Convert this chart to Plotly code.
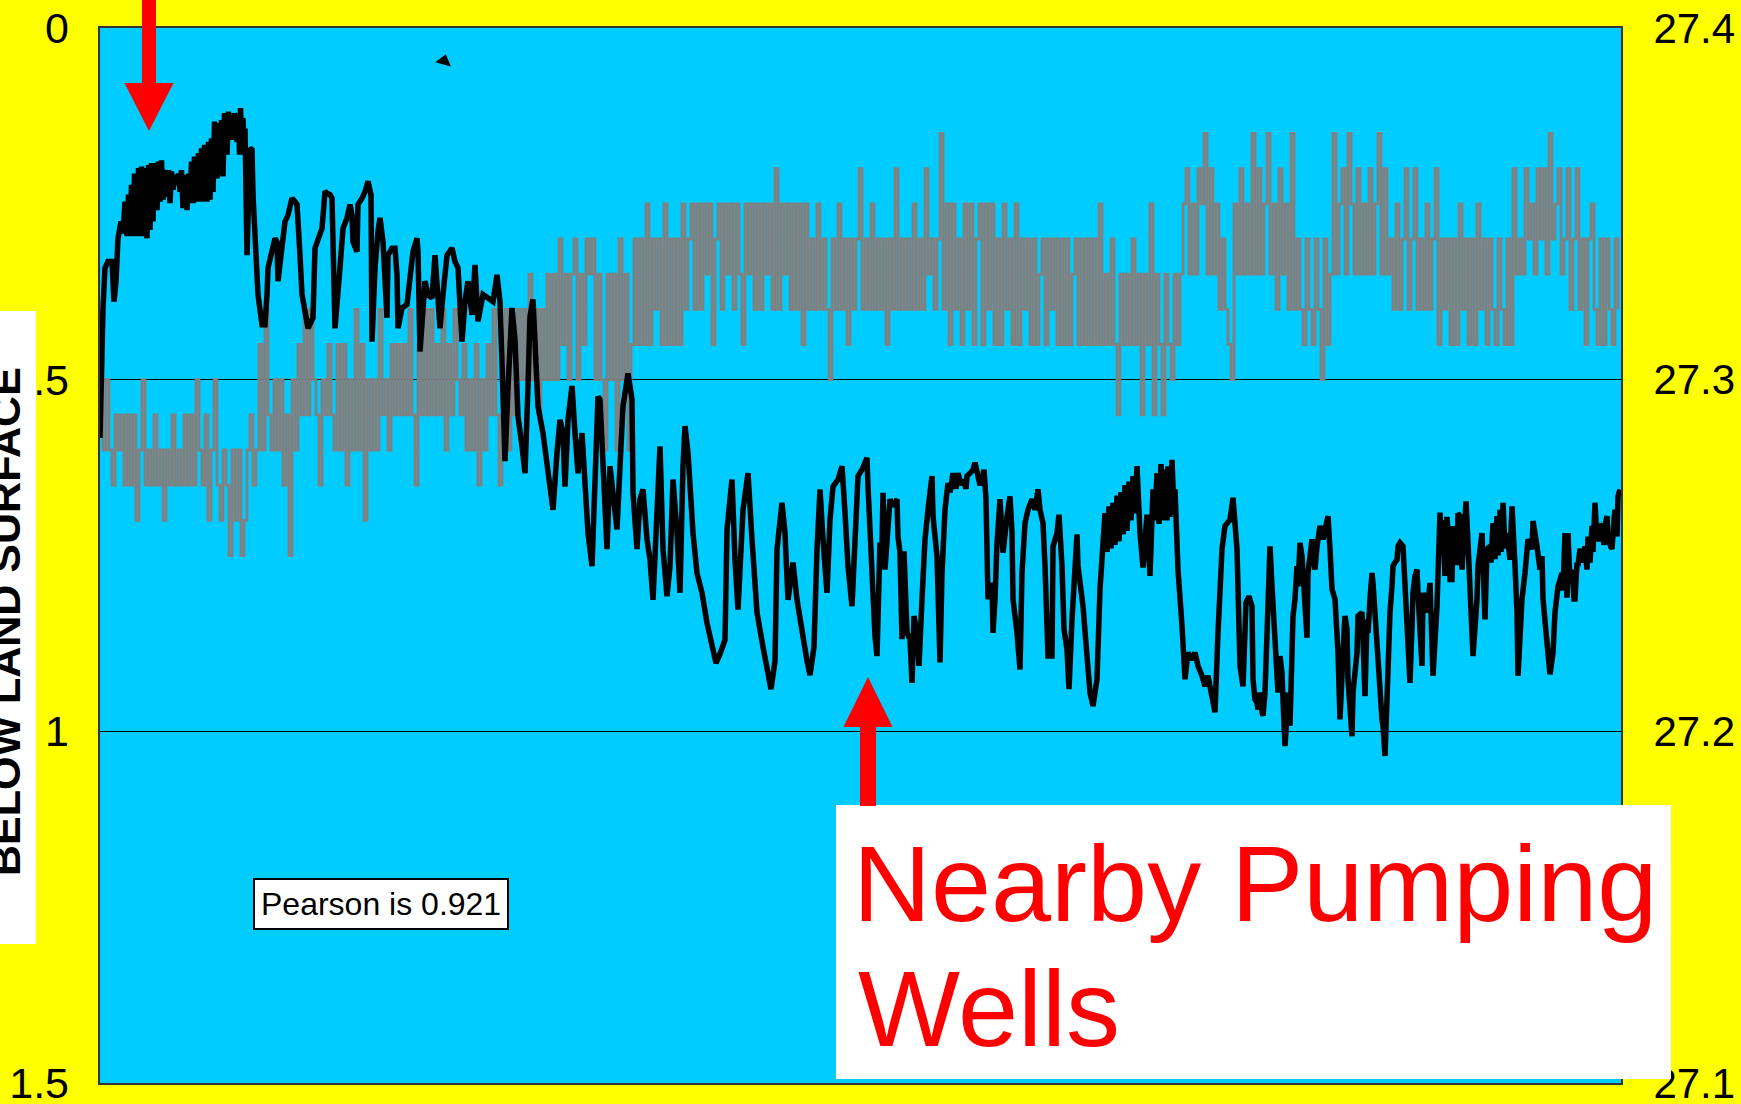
import plotly.graph_objects as go

# ------------------------------------------------------------------
# DATA
# time axis: arbitrary sample time units, 0 .. 1521 across the record
# ------------------------------------------------------------------
record_span = [0, 1521]

# Black series: depth to water below land surface (ft), left axis
# (time, depth) pairs, grouped by part of the record
black_early = [
    (0, 0.583), (2, 0.427), (3, 0.398), (5, 0.341), (8, 0.332), (12, 0.332),
    (14, 0.389), (16, 0.360), (18, 0.299), (21, 0.275),
    (23, 0.292), (25, 0.247), (27, 0.296), (28.5, 0.237), (30, 0.296), (31.5, 0.223),
    (33, 0.296), (34.5, 0.207), (37, 0.296), (38.5, 0.199), (40, 0.296), (41.5, 0.197),
    (43, 0.296), (44.5, 0.199), (47, 0.299), (48.5, 0.195), (50, 0.287), (51.5, 0.192),
    (53, 0.275), (54.5, 0.192), (57, 0.259), (58.5, 0.190), (60, 0.247), (61.5, 0.188),
    (63, 0.244), (64.5, 0.202), (67, 0.240), (68.5, 0.202), (70, 0.249), (71.5, 0.204),
    (73, 0.230), (74.5, 0.209), (77, 0.223), (78.5, 0.207), (80, 0.233), (81.5, 0.202),
    (83, 0.256), (84.5, 0.209), (87, 0.259), (88.5, 0.207), (90, 0.249), (91.5, 0.190),
    (93, 0.249), (94.5, 0.183), (97, 0.247), (98.5, 0.178), (100, 0.247), (101.5, 0.171),
    (103, 0.247), (104.5, 0.166), (107, 0.247), (108.5, 0.162), (110, 0.244), (111.5, 0.157),
    (113, 0.233), (114.5, 0.133), (117, 0.214), (118.5, 0.135), (120, 0.209), (121.5, 0.131),
    (123, 0.211), (124.5, 0.121), (127, 0.180), (128.5, 0.119), (130, 0.157), (131.5, 0.124),
    (133, 0.159), (134.5, 0.121), (137, 0.162), (138.5, 0.124), (139.5, 0.180), (140.5, 0.114),
    (142, 0.166), (143, 0.128), (144, 0.180), (145, 0.143),
]
black_decline = [
    (147, 0.323), (150, 0.171), (152, 0.173), (153, 0.237), (157, 0.337), (158, 0.379),
    (162, 0.422), (165, 0.422), (167, 0.379), (168, 0.341), (175, 0.299), (177, 0.304),
    (178, 0.360), (182, 0.308), (185, 0.275), (188, 0.266), (192, 0.242), (195, 0.247),
    (197, 0.251), (200, 0.323), (202, 0.379), (205, 0.403), (208, 0.427), (213, 0.412),
    (215, 0.313), (222, 0.285), (225, 0.232), (227, 0.235), (230, 0.237), (232, 0.242),
    (233, 0.332), (235, 0.427), (240, 0.341), (243, 0.285), (247, 0.270), (250, 0.251),
    (252, 0.266), (253, 0.304), (257, 0.318), (258, 0.251), (262, 0.242), (265, 0.233),
    (268, 0.218), (271, 0.237), (272, 0.446), (275, 0.341), (278, 0.289), (280, 0.270),
    (283, 0.304), (287, 0.412), (288, 0.323), (292, 0.313), (295, 0.313), (297, 0.351),
    (298, 0.427), (302, 0.398), (307, 0.393), (310, 0.360), (313, 0.318), (317, 0.299),
    (318, 0.318), (320, 0.460), (325, 0.360), (328, 0.379), (332, 0.384), (335, 0.323),
    (337, 0.379), (340, 0.427), (343, 0.379), (347, 0.323), (352, 0.313), (355, 0.332),
    (358, 0.341), (362, 0.446), (365, 0.389), (368, 0.360), (372, 0.408), (375, 0.337),
    (378, 0.417), (383, 0.379), (388, 0.384), (393, 0.389), (397, 0.351), (400, 0.389),
    (403, 0.521), (405, 0.616), (408, 0.512), (412, 0.398),
]
black_pumping_1 = [
    (415, 0.443), (418, 0.552), (422, 0.595), (425, 0.633), (428, 0.509), (430, 0.410),
    (433, 0.386), (435, 0.453), (438, 0.538), (443, 0.576), (447, 0.618), (450, 0.647),
    (453, 0.685), (457, 0.604), (460, 0.557), (463, 0.576), (465, 0.652), (468, 0.557),
    (472, 0.509), (475, 0.576), (478, 0.633), (482, 0.576), (485, 0.656), (488, 0.718),
    (492, 0.765), (495, 0.661), (498, 0.524), (500, 0.528), (503, 0.614), (507, 0.741),
    (510, 0.623), (513, 0.661), (517, 0.713), (520, 0.623), (523, 0.538), (528, 0.491),
    (532, 0.528), (533, 0.661), (537, 0.741), (540, 0.670), (543, 0.656), (547, 0.727),
    (550, 0.756), (553, 0.813), (557, 0.694), (560, 0.595), (563, 0.741), (567, 0.808),
    (570, 0.765), (573, 0.642), (577, 0.718), (580, 0.803), (583, 0.623), (585, 0.566),
    (588, 0.604), (593, 0.718), (597, 0.775), (602, 0.803), (607, 0.846), (612, 0.880),
    (616, 0.903), (620, 0.890), (625, 0.870), (627, 0.713), (628, 0.699), (632, 0.642),
    (635, 0.756), (638, 0.827), (643, 0.685), (648, 0.633), (652, 0.727), (657, 0.831),
    (663, 0.880), (668, 0.925), (671, 0.940), (675, 0.900), (677, 0.741), (682, 0.675),
    (685, 0.718), (688, 0.813), (693, 0.760), (697, 0.813), (702, 0.860), (707, 0.900),
    (710, 0.920), (714, 0.880), (717, 0.741), (720, 0.656), (723, 0.727), (727, 0.803),
    (730, 0.699), (733, 0.652), (738, 0.642), (742, 0.623), (745, 0.689), (748, 0.765),
    (752, 0.822), (755, 0.708), (758, 0.637), (762, 0.628),
]
black_pumping_2 = [
    (767, 0.611), (768, 0.652), (770, 0.727), (773, 0.836), (775, 0.865), (777, 0.893),
    (778, 0.812), (780, 0.732), (782, 0.737), (783, 0.661), (785, 0.770), (787, 0.727),
    (788, 0.718), (790, 0.670), (793, 0.680), (797, 0.670), (798, 0.723), (800, 0.746),
    (802, 0.869), (803, 0.746), (804, 0.744), (807, 0.860), (810, 0.869), (812, 0.931),
    (814, 0.836), (817, 0.860), (819, 0.907), (822, 0.812), (825, 0.727), (828, 0.685),
    (832, 0.637), (833, 0.694), (837, 0.751), (840, 0.902), (842, 0.775), (845, 0.685),
    (848, 0.647), (850, 0.660), (853, 0.633), (856, 0.655), (858, 0.633), (861, 0.650),
    (863, 0.642), (866, 0.655), (867, 0.637), (870, 0.633), (873, 0.628), (875, 0.618),
    (878, 0.637), (880, 0.650), (882, 0.642), (884, 0.628), (886, 0.670), (888, 0.812),
    (892, 0.789), (893, 0.860), (895, 0.812), (897, 0.732), (900, 0.670), (902, 0.727),
    (903, 0.746), (907, 0.694), (910, 0.666), (912, 0.718), (913, 0.812), (917, 0.860),
    (920, 0.912), (922, 0.775), (925, 0.704), (928, 0.685), (932, 0.670), (935, 0.685),
    (938, 0.656), (940, 0.685), (943, 0.704), (945, 0.765), (948, 0.893), (952, 0.893),
    (953, 0.737), (957, 0.718), (959, 0.692), (962, 0.765), (964, 0.855), (967, 0.884),
    (969, 0.940), (972, 0.841), (974, 0.775), (977, 0.720), (978, 0.765), (980, 0.784),
    (983, 0.822), (987, 0.893), (990, 0.945), (993, 0.964), (997, 0.926), (1000, 0.798),
    (1003, 0.727), (1005, 0.690), (1007, 0.745), (1009, 0.680), (1011, 0.740), (1013, 0.675),
    (1015, 0.735), (1017, 0.665), (1019, 0.730), (1021, 0.660), (1023, 0.720), (1025, 0.650),
    (1027, 0.715), (1029, 0.645), (1031, 0.700), (1033, 0.637), (1035, 0.690), (1037, 0.623),
    (1040, 0.718), (1043, 0.767), (1047, 0.692), (1050, 0.779), (1053, 0.656), (1055, 0.700),
    (1057, 0.633), (1059, 0.705), (1061, 0.620), (1063, 0.700), (1065, 0.628), (1067, 0.700),
    (1068, 0.623), (1070, 0.695), (1072, 0.614), (1074, 0.690), (1075, 0.656), (1078, 0.770),
    (1082, 0.850), (1085, 0.926), (1088, 0.888), (1092, 0.898), (1095, 0.888), (1098, 0.907),
    (1102, 0.921), (1105, 0.936), (1108, 0.921), (1112, 0.955), (1115, 0.973), (1118, 0.860),
    (1122, 0.741), (1125, 0.708), (1130, 0.699), (1133, 0.668), (1137, 0.741), (1140, 0.907),
    (1143, 0.936), (1146, 0.817), (1149, 0.808),
]
black_late = [
    (1152, 0.822), (1153, 0.926), (1155, 0.955), (1157, 0.959), (1158, 0.969), (1160, 0.945),
    (1162, 0.973), (1163, 0.978), (1165, 0.945), (1167, 0.831), (1170, 0.737), (1172, 0.794),
    (1173, 0.822), (1175, 0.850), (1177, 0.898), (1178, 0.945), (1180, 0.893), (1182, 0.917),
    (1183, 0.955), (1185, 1.021), (1187, 0.978), (1188, 0.945), (1190, 0.992), (1192, 0.860),
    (1193, 0.836), (1195, 0.812), (1197, 0.765), (1198, 0.794), (1200, 0.732), (1202, 0.751),
    (1203, 0.775), (1205, 0.812), (1207, 0.867), (1208, 0.775), (1210, 0.751), (1212, 0.727),
    (1213, 0.746), (1215, 0.770), (1217, 0.737), (1220, 0.708), (1223, 0.727), (1228, 0.694),
    (1230, 0.741), (1232, 0.798), (1235, 0.812), (1237, 0.850), (1238, 0.888), (1240, 0.983),
    (1242, 0.898), (1243, 0.888), (1245, 0.836), (1247, 0.855), (1248, 0.926), (1250, 0.973),
    (1252, 1.007), (1253, 0.945), (1257, 0.888), (1258, 0.836), (1262, 0.831), (1265, 0.950),
    (1267, 0.841), (1268, 0.860), (1270, 0.812), (1272, 0.775), (1273, 0.789), (1275, 0.831),
    (1277, 0.898), (1280, 0.945), (1282, 0.983), (1283, 0.992), (1285, 1.035), (1287, 0.955),
    (1288, 0.884), (1290, 0.831), (1292, 0.794), (1293, 0.765), (1295, 0.760), (1297, 0.756),
    (1298, 0.737), (1300, 0.732), (1303, 0.737), (1305, 0.803), (1307, 0.860), (1310, 0.931),
    (1312, 0.850), (1313, 0.803), (1315, 0.779), (1317, 0.770), (1318, 0.803), (1322, 0.907),
    (1323, 0.803), (1327, 0.831), (1330, 0.789), (1333, 0.921), (1337, 0.822), (1338, 0.765),
    (1340, 0.689), (1342, 0.741), (1343, 0.700), (1345, 0.779), (1347, 0.695), (1348, 0.718),
    (1350, 0.784), (1352, 0.784), (1353, 0.708), (1355, 0.760), (1357, 0.760), (1358, 0.690),
    (1360, 0.694), (1362, 0.770), (1363, 0.746), (1365, 0.680), (1366, 0.673), (1368, 0.732),
    (1370, 0.794), (1372, 0.836), (1373, 0.893), (1377, 0.812), (1378, 0.765), (1382, 0.718),
    (1385, 0.841), (1387, 0.741), (1390, 0.737), (1391, 0.760), (1393, 0.704), (1395, 0.755),
    (1397, 0.694), (1398, 0.750), (1400, 0.685), (1401, 0.745), (1403, 0.675), (1405, 0.740),
    (1407, 0.718), (1410, 0.756), (1412, 0.680), (1415, 0.765), (1417, 0.831), (1418, 0.921),
    (1420, 0.860), (1422, 0.812), (1425, 0.775), (1428, 0.727), (1432, 0.741), (1433, 0.701),
    (1437, 0.737), (1440, 0.770), (1442, 0.751), (1443, 0.812), (1447, 0.874), (1450, 0.919),
    (1453, 0.888), (1455, 0.831), (1458, 0.794), (1462, 0.775), (1463, 0.800), (1465, 0.718),
    (1467, 0.810), (1468, 0.718), (1470, 0.790), (1472, 0.770), (1474, 0.812), (1475, 0.812),
    (1477, 0.760), (1478, 0.765), (1480, 0.740), (1482, 0.751), (1483, 0.760), (1485, 0.737),
    (1487, 0.770), (1488, 0.723), (1490, 0.760), (1492, 0.708), (1493, 0.745), (1495, 0.675),
    (1497, 0.730), (1498, 0.708), (1500, 0.730), (1502, 0.704), (1504, 0.735), (1505, 0.708),
    (1507, 0.694), (1508, 0.727), (1510, 0.735), (1512, 0.741), (1514, 0.700), (1515, 0.685),
    (1517, 0.723), (1518, 0.666), (1520, 0.656),
]

# Gray series: water level, recorded every 3 time units,
# in hundredths of a foot above 27 ft (right axis)
gray_interval = 3
gray_hundredths = [
    31, 28, 30, 28, 27, 29, 28, 29, 27, 29,
    27, 29, 26, 28, 30, 27, 28, 27, 29, 27,
    28, 26, 28, 27, 29, 27, 28, 27, 29, 27,
    29, 27, 30, 28, 27, 29, 26, 28, 30, 27,
    26, 28, 27, 25, 28, 26, 28, 25, 26, 28,
    29, 27, 28, 31, 28, 32, 29, 28, 30, 28,
    30, 27, 29, 25, 30, 28, 31, 29, 32, 29,
    32, 30, 29, 27, 30, 29, 31, 29, 28, 31,
    28, 31, 27, 30, 28, 32, 28, 31, 26, 30,
    28, 30, 28, 32, 29, 30, 28, 31, 29, 31,
    29, 31, 29, 32, 29, 27, 31, 29, 32, 29,
    32, 29, 31, 29, 32, 28, 31, 29, 32, 30,
    29, 31, 28, 30, 28, 31, 27, 30, 28, 31,
    29, 32, 29, 27, 29, 32, 28, 31, 29, 32,
    30, 32, 30, 33, 30, 32, 29, 32, 30, 33,
    30, 33, 30, 34, 31, 33, 30, 33, 34, 30,
    33, 31, 34, 33, 34, 30, 33, 30, 28, 33,
    30, 33, 28, 34, 30, 33, 28, 31, 34, 31,
    34, 31, 35, 31, 34, 32, 34, 31, 35, 31,
    34, 31, 34, 31, 35, 32, 34, 35, 32, 35,
    32, 35, 33, 35, 31, 34, 35, 32, 35, 33,
    35, 32, 35, 33, 31, 35, 33, 35, 32, 35,
    32, 35, 33, 35, 32, 36, 32, 35, 33, 35,
    32, 35, 32, 35, 31, 35, 32, 34, 32, 35,
    32, 34, 32, 30, 34, 32, 35, 32, 34, 31,
    34, 32, 34, 36, 32, 34, 32, 35, 32, 34,
    32, 34, 31, 34, 32, 36, 32, 34, 32, 34,
    32, 35, 32, 34, 32, 36, 33, 34, 32, 34,
    37, 32, 35, 31, 35, 32, 34, 31, 35, 32,
    35, 31, 34, 35, 31, 35, 32, 35, 31, 34,
    31, 35, 32, 34, 31, 35, 31, 34, 32, 34,
    31, 34, 31, 33, 34, 31, 34, 32, 34, 31,
    34, 31, 34, 31, 33, 34, 31, 34, 31, 34,
    31, 34, 31, 35, 31, 33, 31, 34, 31, 29,
    33, 31, 33, 31, 34, 31, 33, 29, 33, 31,
    35, 29, 33, 31, 29, 33, 31, 30, 33, 31,
    33, 35, 36, 33, 35, 33, 36, 35, 37, 33,
    36, 33, 35, 32, 34, 32, 31, 30, 35, 33,
    36, 33, 35, 33, 37, 33, 36, 33, 35, 37,
    33, 35, 32, 36, 33, 35, 32, 37, 32, 34,
    32, 31, 34, 32, 31, 34, 32, 30, 34, 31,
    33, 37, 33, 35, 36, 33, 37, 35, 33, 36,
    33, 35, 33, 36, 33, 35, 37, 33, 36, 33,
    34, 32, 35, 32, 34, 36, 32, 34, 36, 32,
    34, 32, 35, 32, 34, 36, 31, 34, 32, 34,
    31, 34, 31, 35, 32, 34, 31, 34, 31, 35,
    32, 34, 31, 34, 32, 31, 34, 32, 31, 34,
    31, 36, 33, 34, 33, 36, 34, 35, 33, 36,
    34, 36, 33, 37, 34, 35, 36, 33, 34, 36,
    32, 34, 36, 32, 34, 31, 34, 35, 32, 31,
    34, 31, 34, 32, 31, 34, 32,
]

# stray marker on the original chart
marker_time = [344]
marker_depth = [0.047]

# axis ticks
left_tickvals = [0, 0.5, 1, 1.5]
left_ticktext = ["0", ".5", "1", "1.5"]
right_tickvals = [27.1, 27.2, 27.3, 27.4]
right_ticktext = ["27.1", "27.2", "27.3", "27.4"]

pearson_text = "Pearson is 0.921"
callout_lines = ["Nearby Pumping", "Wells"]
axis_title = "BELOW LAND SURFACE"

# ------------------------------------------------------------------
# derived series
# ------------------------------------------------------------------
black_all = black_early + black_decline + black_pumping_1 + black_pumping_2 + black_late
black_t = [p[0] for p in black_all]
black_d = [p[1] for p in black_all]
gray_t = [i * gray_interval for i in range(len(gray_hundredths))]
gray_v = [27 + v / 100 for v in gray_hundredths]

# ------------------------------------------------------------------
# layout geometry (pixels)
# ------------------------------------------------------------------
W, H = 1741, 1104
ML, MR, MT, MB = 100, 120, 28, 21
PW = W - ML - MR
PH = H - MT - MB


def px(X):
    return (X - ML) / PW


def py(Y):
    return (H - MB - Y) / PH


FONT = "Liberation Sans, Arial, sans-serif"

fig = go.Figure()

fig.add_trace(go.Scatter(
    x=gray_t, y=gray_v, mode="lines", yaxis="y",
    line=dict(color="#808080", width=2.8, shape="hv"),
    hoverinfo="skip", showlegend=False,
))
fig.add_trace(go.Scatter(
    x=black_t, y=black_d, mode="lines", yaxis="y2",
    line=dict(color="#000000", width=5.5),
    hoverinfo="skip", showlegend=False,
))
fig.add_trace(go.Scatter(
    x=marker_time, y=marker_depth, mode="markers", yaxis="y2",
    marker=dict(symbol="triangle-up", size=14, angle=15, color="#000000"),
    hoverinfo="skip", showlegend=False,
))


def poly(points):
    s = "M " + " L ".join(f"{px(x):.5f},{py(y):.5f}" for x, y in points) + " Z"
    return s


shapes = [
    # white backing of the (cropped) axis title
    dict(type="rect", xref="paper", yref="paper", x0=px(-10), x1=px(36),
         y0=py(944), y1=py(311), fillcolor="white", line=dict(width=0), layer="above"),
    # white callout box
    dict(type="rect", xref="paper", yref="paper", x0=px(836), x1=px(1671),
         y0=py(1079), y1=py(805), fillcolor="white", line=dict(width=0), layer="above"),
    # red arrow at top-left (pointing down)
    dict(type="path", xref="paper", yref="paper",
         path=poly([(142, -5), (156, -5), (156, 83), (173.5, 83), (149, 131),
                    (124.5, 83), (142, 83)]),
         fillcolor="#FF0000", line=dict(width=0), layer="above"),
    # red arrow above the callout (pointing up)
    dict(type="path", xref="paper", yref="paper",
         path=poly([(868, 677), (892.5, 727), (876, 727), (876, 806), (860, 806),
                    (860, 727), (843.5, 727)]),
         fillcolor="#FF0000", line=dict(width=0), layer="above"),
]

annotations = [
    dict(text=f"<b>{axis_title}</b>", textangle=-90, xref="paper", yref="paper",
         x=px(5), y=py(622), xanchor="center", yanchor="middle", showarrow=False,
         font=dict(family=FONT, size=43, color="black")),
    dict(text=pearson_text, xref="paper", yref="paper", x=px(380.5), y=py(903.5),
         xanchor="center", yanchor="middle", showarrow=False,
         font=dict(family=FONT, size=32, color="black"),
         bgcolor="white", bordercolor="black", borderwidth=2, borderpad=6),
    dict(text=callout_lines[0], xref="paper", yref="paper", x=px(851), y=py(884),
         xanchor="left", yanchor="middle", showarrow=False,
         font=dict(family=FONT, size=108, color="#FF0000")),
    dict(text=callout_lines[1], xref="paper", yref="paper", x=px(856), y=py(1009),
         xanchor="left", yanchor="middle", showarrow=False,
         font=dict(family=FONT, size=108, color="#FF0000")),
]

fig.update_layout(
    template="none",
    width=W, height=H, autosize=False,
    margin=dict(l=ML, r=MR, t=MT, b=MB, pad=0),
    paper_bgcolor="#FFFF00",
    plot_bgcolor="#00CCFF",
    showlegend=False,
    font=dict(family=FONT, size=43, color="black"),
    xaxis=dict(range=record_span, showticklabels=False, ticks="", showgrid=False,
               zeroline=False, showline=True, mirror=True, linecolor="#333333",
               linewidth=2, automargin=False),
    yaxis=dict(side="right", range=[27.1, 27.4], tickvals=right_tickvals,
               ticktext=right_ticktext, ticks="", showgrid=True, gridcolor="black",
               gridwidth=1, zeroline=False, showline=True, mirror=True,
               linecolor="#333333", linewidth=2, ticklabelstandoff=22,
               ticklabeloverflow="allow",
               tickfont=dict(family=FONT, size=42, color="black"), automargin=False),
    yaxis2=dict(overlaying="y", side="left", range=[1.5, 0], tickvals=left_tickvals,
                ticktext=left_ticktext, ticks="", showgrid=False, zeroline=False,
                showline=False, ticklabelstandoff=30, ticklabeloverflow="allow",
                tickfont=dict(family=FONT, size=43, color="black"), automargin=False),
    shapes=shapes,
    annotations=annotations,
)

page_fix = ("document.body.style.margin='0';"
            "document.body.style.padding='0';"
            "document.body.style.overflow='hidden';"
            "document.documentElement.style.background='#FFFF00';"
            "document.body.style.background='#FFFF00';")

fig.write_html("out.html", post_script=page_fix,
               config={"displayModeBar": False, "staticPlot": True})
